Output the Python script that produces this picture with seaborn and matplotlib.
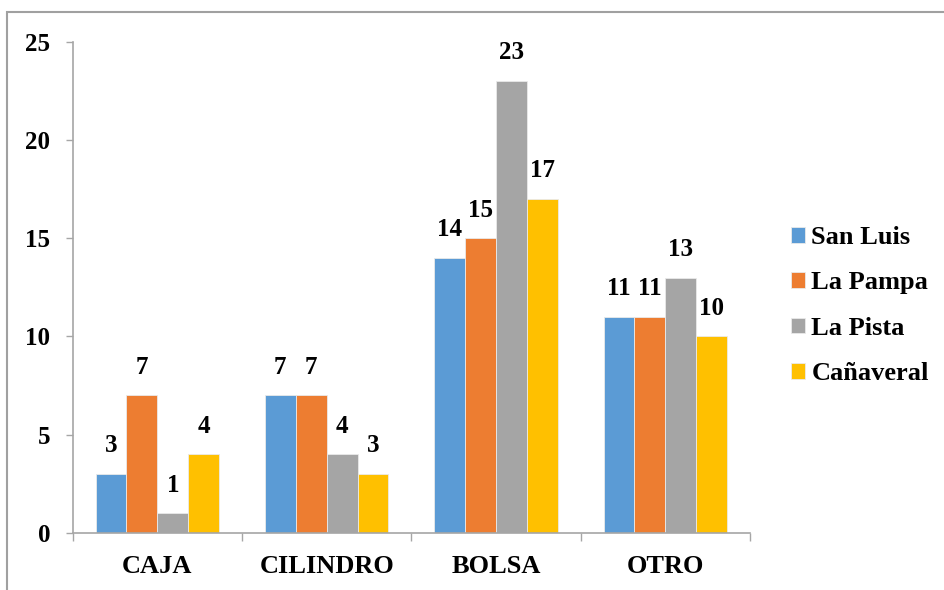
import pandas as pd
import seaborn as sns
import matplotlib.pyplot as plt
from matplotlib.patches import Rectangle
from matplotlib.ticker import FixedLocator

# Data
categories = ['CAJA', 'CILINDRO', 'BOLSA', 'OTRO']
san_luis = [3, 7, 14, 11]
la_pampa = [7, 7, 15, 11]
la_pista = [1, 4, 23, 13]
canaveral = [4, 3, 17, 10]
series_names = ['San Luis', 'La Pampa', 'La Pista', 'Cañaveral']
series_colors = ['#5B9BD5', '#ED7D31', '#A5A5A5', '#FFC000']
y_ticks = [0, 5, 10, 15, 20, 25]

rows = []
for name, vals in zip(series_names, [san_luis, la_pampa, la_pista, canaveral]):
    for cat, v in zip(categories, vals):
        rows.append({'Tipo': cat, 'Sitio': name, 'Valor': v})
df = pd.DataFrame(rows)

sns.set_style('white')
plt.rcParams['font.family'] = ['Liberation Serif', 'DejaVu Serif']
plt.rcParams['font.weight'] = 'bold'
plt.rcParams['text.color'] = 'black'
plt.rcParams['xtick.labelcolor'] = 'black'
plt.rcParams['ytick.labelcolor'] = 'black'

fig = plt.figure(figsize=(9.45, 5.9), dpi=100)
ax = fig.add_axes([0.0769, 0.0966, 0.7168, 0.8327])

sns.barplot(data=df, x='Tipo', y='Valor', hue='Sitio', order=categories,
            hue_order=series_names, palette=series_colors, saturation=1,
            width=0.73, gap=0, edgecolor='#EAEAEA', linewidth=0.6, ax=ax)

for cont in ax.containers:
    ax.bar_label(cont, padding=12, fontsize=18, fontweight='bold', color='black')

ax.set_xlim(-0.5, 3.5)
ax.set_ylim(0, 25)
ax.set_yticks(y_ticks)
ax.set_xlabel('')
ax.set_ylabel('')

axis_gray = '#A6A6A6'
for side in ['top', 'right']:
    ax.spines[side].set_visible(False)
for side in ['left', 'bottom']:
    ax.spines[side].set_color(axis_gray)
    ax.spines[side].set_linewidth(1.2)

ax.tick_params(axis='y', direction='out', length=5, width=1, color=axis_gray,
               pad=11, labelsize=18, left=True)
ax.tick_params(axis='x', which='major', length=0, pad=16, labelsize=19)
ax.xaxis.set_minor_locator(FixedLocator([-0.5, 0.5, 1.5, 2.5, 3.5]))
ax.tick_params(axis='x', which='minor', direction='out', length=6, width=1,
               color=axis_gray, bottom=True)
for lbl in ax.get_xticklabels() + ax.get_yticklabels():
    lbl.set_fontweight('bold')

ax.legend(loc='center left', bbox_to_anchor=(0.837, 0.482),
          bbox_transform=fig.transFigure, frameon=False,
          prop={'size': 19, 'weight': 'bold'}, handlelength=0.55,
          handleheight=0.55, handletextpad=0.22, labelspacing=0.85,
          borderpad=0, borderaxespad=0)

# thin frame around the chart area (only top and left visible)
fig.add_artist(Rectangle((7 / 945, -0.5), 2, 1.5 - 12 / 590,
                         transform=fig.transFigure, fill=False,
                         edgecolor='#A0A0A0', linewidth=1.5, clip_on=False))

fig.savefig('out.png', dpi=100)
